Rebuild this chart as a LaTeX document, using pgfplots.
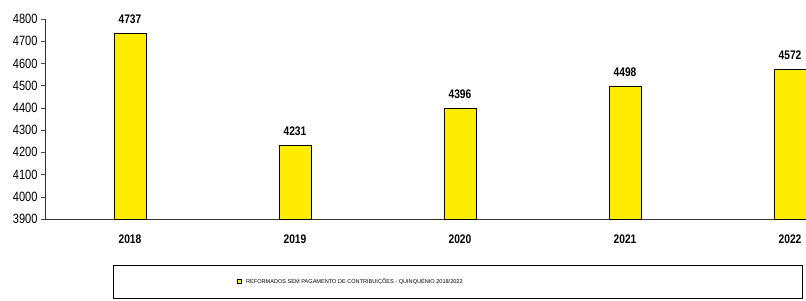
\documentclass[border=0pt]{standalone}
\usepackage{pgfplots}
\pgfplotsset{compat=1.18}
\usepackage{fontspec}
\setmainfont{Liberation Sans}
\newfontfamily\narrowfont[FakeStretch=0.82]{Liberation Sans}
\definecolor{baryellow}{RGB}{255,236,0}
\begin{document}
\begin{tikzpicture}[x=1bp,y=1bp]
\useasboundingbox (-45,-81) rectangle (761,219);
\begin{axis}[
  name=ax,
  at={(0,0)}, anchor=south west,
  scale only axis,
  width=761bp, height=200bp,
  xmin=-0.515, xmax=4.097,
  ymin=3900, ymax=4800,
  axis lines=left,
  axis line style={-, black!80, line width=0.8pt},
  xtick={0,1,2,3,4},
  xticklabels={2018,2019,2020,2021,2022},
  xticklabel style={font=\narrowfont\bfseries\fontsize{12.5}{13}\selectfont, yshift=-8bp},
  major x tick style={draw=none},
  ytick={3900,4000,...,4800},
  yticklabel style={font=\narrowfont\fontsize{13.5}{14}\selectfont},
  /pgf/number format/assume math mode=true,
  /pgf/number format/set thousands separator={},
  major y tick style={black!70, line width=0.5pt},
  tick align=outside,
  major tick length=4bp,
  ybar,
  bar width=32bp,
  clip=true,
  nodes near coords,
  every node near coord/.append style={font=\narrowfont\bfseries\fontsize{12.5}{13}\selectfont, yshift=6bp, /pgf/number format/set thousands separator={}},
]
\addplot[fill=baryellow, draw=black, line width=0.9pt] coordinates {(0,4737) (1,4231) (2,4396) (3,4498) (4,4572)};
\end{axis}
\draw[black, line width=0.9pt] (68,-46) rectangle (757,-79);
\draw[black, fill=baryellow, line width=0.5pt] (192,-64.5) rectangle (196,-60.5);
\node[anchor=west, font=\fontsize{5.6}{6}\selectfont, inner sep=0pt] at (201,-62.5) {REFORMADOS SEM PAGAMENTO DE CONTRIBUIÇÕES - QUINQUÉNIO 2018/2022};
\end{tikzpicture}
\end{document}
